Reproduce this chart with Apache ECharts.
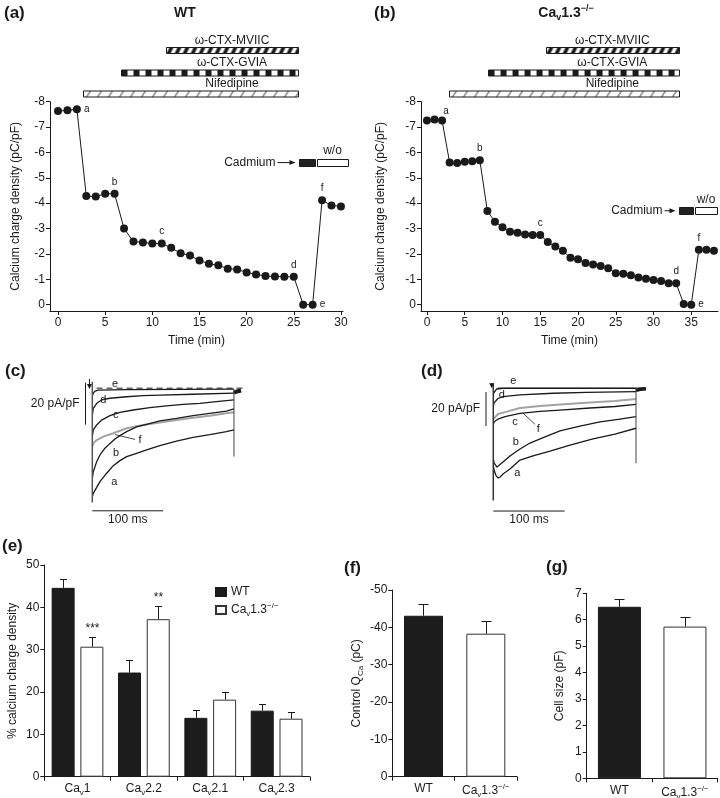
<!DOCTYPE html>
<html>
<head>
<meta charset="utf-8">
<script src="https://cdn.jsdelivr.net/npm/echarts@6.0.0/dist/echarts.min.js"></script>
<style>
html,body{margin:0;padding:0;background:#fff;}
#chart{width:720px;height:798px;}
</style>
</head>
<body>
<div id="chart"></div>
<script>
// ===================== DATA =====================
// (a) WT time course
const timeA = [0,1,2,3,4,5,6,7,8,9,10,11,12,13,14,15,16,17,18,19,20,21,22,23,24,25,26,27,28,29,30];
const chargeA = [-7.63,-7.66,-7.70,-4.28,-4.26,-4.37,-4.37,-3.00,-2.49,-2.45,-2.41,-2.41,-2.24,-2.03,-1.94,-1.74,-1.61,-1.55,-1.42,-1.39,-1.27,-1.19,-1.13,-1.11,-1.10,-1.10,0,0,-4.12,-3.91,-3.87];
const tagsA = {2:'a',6:'b',11:'c',25:'d',27:'e',28:'f'};
// (b) Cav1.3-/- time course
const timeB = [0,1,2,3,4,5,6,7,8,9,10,11,12,13,14,15,16,17,18,19,20,21,22,23,24,25,26,27,28,29,30,31,32,33,34,35,36,37,38];
const chargeB = [-7.26,-7.30,-7.26,-5.60,-5.58,-5.63,-5.65,-5.69,-3.69,-3.27,-3.05,-2.87,-2.83,-2.77,-2.75,-2.75,-2.47,-2.29,-2.12,-1.85,-1.79,-1.64,-1.58,-1.52,-1.44,-1.24,-1.22,-1.16,-1.07,-1.02,-0.97,-0.93,-0.84,-0.84,-0.03,0,-2.16,-2.16,-2.12];
const tagsB = {2:'a',7:'b',15:'c',33:'d',35:'e',36:'f'};
const ticksTimeA = [0,5,10,15,20,25,30];
const ticksTimeB = [0,5,10,15,20,25,30,35];
const ticksCharge = [-8,-7,-6,-5,-4,-3,-2,-1,0];
// drug application periods (min)
const drugsA = [{name:'ω-CTX-MVIIC',from:11.5,to:25.4,pat:'mviic'},{name:'ω-CTX-GVIA',from:6.65,to:25.4,pat:'gvia'},{name:'Nifedipine',from:2.6,to:25.4,pat:'nif'}];
const drugsB = [{name:'ω-CTX-MVIIC',from:15.7,to:33.4,pat:'mviic'},{name:'ω-CTX-GVIA',from:8.05,to:33.4,pat:'gvia'},{name:'Nifedipine',from:2.9,to:33.4,pat:'nif'}];
const cadmiumA = {on:25.55, off:27.4, end:30.7};
const cadmiumB = {on:33.4, off:35.35, end:38.4};

// (c) WT current traces [ms, pA/pF]
const traceCa = [[0.3,-51],[1.4,-49.7],[10.8,-44.1],[20.3,-40.1],[29.6,-36.5],[39,-34.1],[48.5,-32.2],[62.5,-30.6],[76.6,-29.0],[95.4,-27.0],[118.9,-24.8],[142.3,-23.0],[165.8,-21.7],[189.3,-20.3],[200,-19.5]];
const traceCb = [[0.3,-42],[1.4,-39.4],[6.2,-34.6],[10.8,-31.4],[17.9,-28.2],[24.9,-25.9],[32,-23.8],[39,-22.2],[48.5,-20.3],[62.5,-18.0],[76.6,-16.8],[95.4,-15.2],[118.9,-14.0],[142.3,-12.7],[165.8,-11.6],[189.3,-10.5],[200,-9.5]];
const traceCc = [[0.3,-22],[1.4,-19.5],[6.2,-17.1],[13.2,-14.8],[24.9,-12.7],[39,-11.1],[57.7,-10.0],[81.3,-8.9],[104.8,-8.0],[128.2,-7.3],[151.7,-6.8],[175.2,-6.0],[200,-5.2]];
const traceCd = [[0.3,-12],[1.4,-9.2],[6.2,-6.8],[13.2,-5.2],[24.9,-4.4],[48.5,-3.7],[71.8,-3.2],[95.4,-2.9],[142.3,-2.5],[200,-2.0]];
const traceCe = [[0.3,-3],[1.4,-2.0],[3.8,-1.0],[8.5,-0.5],[48.5,-0.3],[200,-0.1]];
const traceCf = [[0.5,-27],[1.4,-25.9],[6.2,-24.3],[15.5,-22.7],[29.6,-21.1],[48.5,-18.7],[71.8,-17.1],[95.4,-15.9],[118.9,-14.8],[142.3,-13.7],[165.8,-12.7],[189.3,-11.6],[200,-11.1]];
const zeroC = [[6,0.4],[212,0.4]];
const onsetC = [[0,3.5],[0,-54]];
const offsetC = [[200,0],[200,-32.2]];
const tailC = [[200,-1.8],[204,-1.2],[210,-0.7]];
// (d) Cav1.3-/- current traces
const traceDa = [[0.3,-46],[1,-48.1],[4,-51.5],[7,-52.8],[10,-52],[13.6,-50.4],[23.4,-47.5],[37.4,-42.2],[55.6,-39.8],[79.5,-36.9],[107.5,-33.4],[139.8,-29.8],[170.6,-26.9],[200,-23.5]];
const traceDb = [[0.3,-42],[1,-43.9],[5.2,-46.3],[9,-45],[13.6,-43.4],[23.4,-39.8],[37.4,-35.7],[51.4,-32.2],[72.5,-28.6],[93.5,-25.1],[121.5,-22.2],[149.6,-19.8],[177.6,-18.1],[200,-16.7]];
const traceDc = [[0.3,-21],[1,-19.8],[6.6,-18.1],[16.4,-16.6],[37.4,-14.8],[65.5,-13.6],[93.5,-12.8],[135.5,-11.6],[170.6,-10.7],[200,-9.5]];
const traceDd = [[0.3,-10],[1,-8.6],[6.6,-6.0],[13.6,-4.9],[37.4,-3.9],[83.7,-2.9],[131.3,-2.4],[200,-2.0]];
const traceDe = [[0.3,-3],[1,-2.0],[4.8,-0.4],[14,0],[200,0]];
const traceDf = [[0.5,-18],[1,-16.9],[6.6,-15.1],[16.4,-14.0],[37.4,-11.6],[65.5,-10.4],[93.5,-9.5],[135.5,-8.4],[170.6,-7.5],[200,-6.3]];
const onsetD = [[0,2.9],[0,-66]];
const offsetD = [[200,0],[200,-44.1]];
const tailD = [[200,-1.2],[206,-0.6],[214,-0.3]];
const scaleAmp = 20;   // pA/pF
const scaleDur = 100;  // ms

// (e) % calcium charge density
const channelCats = ['Cav1','Cav2.2','Cav2.1','Cav2.3'];
const shareWT = [44.6,24.6,13.9,15.6];
const shareWTtop = [46.7,27.6,15.7,17.2];
const shareKO = [30.7,37.2,18.2,13.7];
const shareKOtop = [33.1,40.4,20.1,15.3];
const shareSig = ['***','**','',''];
// (f),(g)
const genotypes = ['WT','Cav1.3-/-'];
const controlQ = [-43.1,-38.3];
const controlQtop = [-46.2,-41.6];
const cellSize = [6.49,5.74];
const cellSizeTop = [6.77,6.09];

// ===================== STYLE / LAYOUT =====================
const FONT = '"Liberation Sans", Arial, Helvetica, sans-serif';
const INK = '#1a1a1a';
const GRAY = '#a3a3a3';
const RICH = {
  n:{fontSize:12,lineHeight:16,fontFamily:FONT,color:INK},
  s:{fontSize:8,lineHeight:8,verticalAlign:'bottom',fontFamily:FONT,color:INK},
  p:{fontSize:8,lineHeight:8,verticalAlign:'top',fontFamily:FONT,color:INK}
};
function cav(str){
  if (str.indexOf('Cav') !== 0) return str;
  let rest = str.slice(3), sup = '';
  if (rest.slice(-3) === '-/-') { sup = '−/−'; rest = rest.slice(0,-3); }
  return '{n|Ca}{s|v}{n|' + rest + '}' + (sup ? '{p|' + sup + '}' : '');
}
function ax(extra){
  const base = {
    splitLine:{show:false},
    axisLine:{show:true,onZero:false,lineStyle:{color:INK,width:1}},
    axisTick:{show:true,length:4,lineStyle:{color:INK,width:1}},
    axisLabel:{color:INK,fontSize:12,fontFamily:FONT,margin:5},
    nameTextStyle:{color:INK,fontSize:12,fontFamily:FONT},
    animation:false
  };
  for (const k in extra){
    if (base[k] && typeof extra[k]==='object' && !Array.isArray(extra[k])) base[k] = Object.assign({}, base[k], extra[k]);
    else base[k] = extra[k];
  }
  return base;
}
function hidden(gi,min,max){ return {type:'value',gridIndex:gi,min,max,show:false,splitLine:{show:false}}; }

function timeCourse(gi, times, vals, tags, panel){
  return {type:'line',xAxisIndex:gi,yAxisIndex:gi,symbol:'circle',symbolSize:8,silent:true,z:3,
    lineStyle:{color:INK,width:1},itemStyle:{color:INK},
    data: times.map((t,i)=>{
      const d = {value:[t,vals[i]]};
      const tg = tags[i];
      if (tg){
        let pos='top', off=[0,0];
        if (tg==='e') pos='right';
        if (tg==='a') { if (panel==='a') pos='right'; else off=[4,3]; }
        d.label = {show:true,formatter:tg,position:pos,offset:off,distance:3,fontSize:10,color:INK,fontFamily:FONT};
      }
      return d;
    })};
}
function line(gi, data, color, width, dash){
  return {type:'line',xAxisIndex:gi,yAxisIndex:gi,data,symbol:'none',showSymbol:false,silent:true,z:2,
    lineStyle:{color,width,type:dash||'solid',cap:'butt'}};
}
function errorSeries(gi, means, tops, offset, capHalf, marks){
  return {type:'custom',xAxisIndex:gi,yAxisIndex:gi,silent:true,z:5,
    data: means.map((m,i)=>[i,m,tops[i]]),
    encode:{x:0,y:[1,2]},
    renderItem(params, api){
      const i = api.value(0);
      const a = api.coord([i, api.value(1)]);
      const b = api.coord([i, api.value(2)]);
      const x = Math.round(a[0]+offset)+0.5;
      const yb = Math.round(b[1])+0.5;
      const ch = [
        {type:'line',shape:{x1:x,y1:a[1],x2:x,y2:yb},style:{stroke:INK,lineWidth:1}},
        {type:'line',shape:{x1:x-capHalf,y1:yb,x2:x+capHalf,y2:yb},style:{stroke:INK,lineWidth:1}}
      ];
      if (marks && marks[i]) ch.push({type:'text',x:x,y:yb-3,style:{text:marks[i],fill:INK,fontSize:12,fontFamily:FONT,align:'center',verticalAlign:'bottom',textAlign:'center',textVerticalAlign:'bottom'}});
      return {type:'group',children:ch};
    }};
}

const chart = echarts.init(document.getElementById('chart'));
const gridBase = {containLabel:false, outerBoundsMode:'none'};
const option = {
  animation:false,
  backgroundColor:'#fff',
  textStyle:{fontFamily:FONT},
  grid:[
    Object.assign({left:50,top:101.7,width:293,height:209.3},gridBase),
    Object.assign({left:421,top:101.7,width:297,height:209.3},gridBase),
    Object.assign({left:83.8,top:376.4,width:160.1,height:138.6},gridBase),
    Object.assign({left:483.3,top:381.5,width:164.1,height:132.6},gridBase),
    Object.assign({left:44.3,top:565,width:265.5,height:211.7},gridBase),
    Object.assign({left:392.3,top:590,width:124.7,height:186.7},gridBase),
    Object.assign({left:586.7,top:593.3,width:131,height:185},gridBase)
  ],
  legend:{
    data:['WT','Cav1.3-/-'],orient:'vertical',left:210,top:581,itemWidth:10,itemHeight:8,itemGap:4,
    icon:'rect',selectedMode:false,formatter:(n)=>cav(n),
    textStyle:{color:INK,fontSize:12,fontFamily:FONT,rich:RICH}
  },
  xAxis:[
    ax({type:'value',gridIndex:0,min:-0.85,max:30.22,axisTick:{customValues:ticksTimeA},axisLabel:{customValues:ticksTimeA,margin:6},name:'Time (min)',nameLocation:'middle',nameGap:24}),
    ax({type:'value',gridIndex:1,min:-0.79,max:38.54,axisTick:{customValues:ticksTimeB},axisLabel:{customValues:ticksTimeB,margin:6},name:'Time (min)',nameLocation:'middle',nameGap:24}),
    hidden(2,-12,214),
    hidden(3,-14,216),
    ax({type:'category',gridIndex:4,data:channelCats,axisLabel:{formatter:cav,rich:RICH,margin:4,interval:0}}),
    ax({type:'category',gridIndex:5,data:genotypes,axisLabel:{formatter:cav,rich:RICH,margin:6,interval:0}}),
    ax({type:'category',gridIndex:6,data:genotypes,axisLabel:{formatter:cav,rich:RICH,margin:6,interval:0}})
  ],
  yAxis:[
    ax({type:'value',gridIndex:0,inverse:true,min:-8,max:0.25,axisTick:{customValues:ticksCharge},axisLabel:{customValues:ticksCharge},name:'Calcium charge density (pC/pF)',nameLocation:'middle',nameGap:28}),
    ax({type:'value',gridIndex:1,inverse:true,min:-8,max:0.25,axisTick:{customValues:ticksCharge},axisLabel:{customValues:ticksCharge},name:'Calcium charge density (pC/pF)',nameLocation:'middle',nameGap:34}),
    hidden(2,-60,6),
    hidden(3,-74,4),
    ax({type:'value',gridIndex:4,min:0,max:50,interval:10,name:'% calcium charge density',nameLocation:'middle',nameGap:26}),
    ax({type:'value',gridIndex:5,inverse:true,min:-50,max:0,interval:10,name:'{n|Control Q}{s|Ca}{n| (pC)}',nameLocation:'middle',nameGap:28,nameTextStyle:{rich:RICH}}),
    ax({type:'value',gridIndex:6,min:0,max:7,interval:1,name:'Cell size (pF)',nameLocation:'middle',nameGap:21})
  ],
  series:[
    timeCourse(0,timeA,chargeA,tagsA,'a'),
    timeCourse(1,timeB,chargeB,tagsB,'b'),
    // (c)
    line(2,zeroC,INK,1,[6,4]),
    line(2,traceCf,GRAY,2),
    line(2,traceCa,INK,1.3), line(2,traceCb,INK,1.3), line(2,traceCc,INK,1.3), line(2,traceCd,INK,1.3), line(2,traceCe,INK,1.3),
    line(2,onsetC,'#555',1.5), line(2,offsetC,'#444',1), line(2,tailC,INK,4),
    line(2,[[-9.6,3],[-9.6,3-scaleAmp]],INK,1),
    line(2,[[0,-58],[scaleDur,-58]],INK,1),
    // (d)
    line(3,[[6,0.2],[214,0.2]],INK,0.8),
    line(3,traceDf,GRAY,2),
    line(3,traceDa,INK,1.3), line(3,traceDb,INK,1.3), line(3,traceDc,INK,1.3), line(3,traceDd,INK,1.3), line(3,traceDe,INK,1.3),
    line(3,onsetD,'#333',1.5), line(3,offsetD,'#444',1), line(3,tailD,INK,3.5),
    line(3,[[-10.2,-2.2],[-10.2,-2.2-scaleAmp]],INK,1),
    line(3,[[0,-72.2],[scaleDur,-72.2]],INK,1),
    // (e)
    {name:'WT',type:'bar',xAxisIndex:4,yAxisIndex:4,data:shareWT,barWidth:23,barGap:'25%',silent:true,itemStyle:{color:'#1c1c1c',borderColor:INK,borderWidth:1}},
    {name:'Cav1.3-/-',type:'bar',xAxisIndex:4,yAxisIndex:4,data:shareKO,barWidth:23,barGap:'25%',silent:true,itemStyle:{color:'#fff',borderColor:'#333',borderWidth:1}},
    errorSeries(4,shareWT,shareWTtop,-14.4,3.5),
    errorSeries(4,shareKO,shareKOtop,14.4,3.5,shareSig),
    // (f)
    {type:'bar',xAxisIndex:5,yAxisIndex:5,barWidth:39,silent:true,data:[{value:controlQ[0],itemStyle:{color:'#1c1c1c',borderColor:INK,borderWidth:1}},{value:controlQ[1],itemStyle:{color:'#fff',borderColor:'#333',borderWidth:1}}]},
    errorSeries(5,controlQ,controlQtop,0,5),
    // (g)
    {type:'bar',xAxisIndex:6,yAxisIndex:6,barWidth:43,silent:true,data:[{value:cellSize[0],itemStyle:{color:'#1c1c1c',borderColor:INK,borderWidth:1}},{value:cellSize[1],itemStyle:{color:'#fff',borderColor:'#333',borderWidth:1}}]},
    errorSeries(6,cellSize,cellSizeTop,0,5)
  ]
};
chart.setOption(option);

// ===================== ANNOTATIONS =====================
const P = (gi, pt) => chart.convertToPixel({gridIndex:gi}, pt);
function txt(text, x, y, o){
  o = o || {};
  const st = {text, fill:INK, fontSize:o.size||12, fontFamily:FONT, fontWeight:o.weight||'normal',
    align:o.align||'center', verticalAlign:o.valign||'middle', textAlign:o.align||'center', textVerticalAlign:o.valign||'middle'};
  if (o.rich) st.rich = o.rich;
  return {type:'text', x, y, z:20, style:st, silent:true};
}
function makePattern(kind){
  const cv = document.createElement('canvas');
  const ctx = cv.getContext('2d');
  if (kind==='gvia'){ cv.width=12; cv.height=6; ctx.fillStyle='#fff'; ctx.fillRect(0,0,12,6); ctx.fillStyle=INK; ctx.fillRect(0,0,6,6); }
  else if (kind==='mviic'){ cv.width=8; cv.height=6; ctx.fillStyle='#fff'; ctx.fillRect(0,0,8,6); ctx.fillStyle=INK; ctx.beginPath(); ctx.moveTo(0,6); ctx.lineTo(3,0); ctx.lineTo(7,0); ctx.lineTo(4,6); ctx.closePath(); ctx.fill(); }
  else { cv.width=11; cv.height=6; ctx.fillStyle='#fff'; ctx.fillRect(0,0,11,6); ctx.strokeStyle='#333'; ctx.lineWidth=1; ctx.beginPath(); ctx.moveTo(3,6); ctx.lineTo(7,0); ctx.stroke(); }
  return {image:cv, repeat:'repeat'};
}
const patterns = {mviic:makePattern('mviic'), gvia:makePattern('gvia'), nif:makePattern('nif')};
const G = [];
function drugBars(gi, drugs){
  const rowY = [47.5, 70, 91], labY = [41, 62.5, 83.5];
  const cx = (P(gi,[drugs[0].from,0])[0] + P(gi,[drugs[0].to,0])[0]) / 2;
  drugs.forEach((d,k)=>{
    const x0 = Math.round(P(gi,[d.from,0])[0])+0.5, x1 = Math.round(P(gi,[d.to,0])[0])+0.5;
    G.push({type:'rect', x:x0, y:rowY[k], z:15, silent:true, shape:{x:0,y:0,width:x1-x0,height:6}, style:{fill:patterns[d.pat], stroke:INK, lineWidth:1}});
    G.push(txt(d.name, cx, labY[k]));
  });
}
function arrowRight(x0, x1, y){
  G.push({type:'line', z:15, silent:true, shape:{x1:x0,y1:y,x2:x1-4,y2:y}, style:{stroke:INK,lineWidth:1}});
  G.push({type:'polygon', z:15, silent:true, shape:{points:[[x1,y],[x1-6,y-2.5],[x1-6,y+2.5]]}, style:{fill:INK}});
}
function cadmium(gi, cad, level, arrowLen, gapTxt){
  const y = P(gi,[0,level])[1];
  const xOn = Math.round(P(gi,[cad.on,level])[0])+0.5, xOff = Math.round(P(gi,[cad.off,level])[0])+0.5, xEnd = Math.round(P(gi,[cad.end,level])[0])+0.5;
  G.push({type:'rect', z:15, silent:true, shape:{x:xOn,y:Math.round(y-3.5)+0.5,width:xOff-xOn-1,height:7}, style:{fill:'#222',stroke:INK,lineWidth:1}});
  G.push({type:'rect', z:15, silent:true, shape:{x:xOff+1,y:Math.round(y-3.5)+0.5,width:xEnd-xOff-1,height:7}, style:{fill:'#fff',stroke:INK,lineWidth:1}});
  arrowRight(xOn-4-arrowLen, xOn-4, y);
  G.push(txt('Cadmium', xOn-4-arrowLen-gapTxt, y, {align:'right'}));
  G.push(txt('w/o', (xOff+xEnd)/2, y-11.5));
}
drugBars(0, drugsA);
drugBars(1, drugsB);
cadmium(0, cadmiumA, -5.6, 18, 2);
cadmium(1, cadmiumB, -3.7, 11, 2);

// trace letters
const tagsC = [['a',31,-44.1],['b',33.5,-30.6],['c',33,-12.4],['d',15.5,-5.2],['e',32,2.4],['f',67.3,-24.5]];
const tagsD = [['a',33.6,-50],['b',31.4,-31.8],['c',30.4,-20],['d',11.8,-3.9],['e',28,4.3],['f',63,-23.9]];
function traceTags(gi, tags, leader){
  tags.forEach(t=>{ const p = P(gi,[t[1],t[2]]); G.push(txt(t[0], p[0], p[1], {size:11})); });
  const a = P(gi, leader[0]), b = P(gi, leader[1]);
  G.push({type:'line', z:15, silent:true, shape:{x1:a[0],y1:a[1],x2:b[0],y2:b[1]}, style:{stroke:INK,lineWidth:0.8}});
}
traceTags(2, tagsC, [[32,-21.7],[60.3,-24]]);
traceTags(3, tagsD, [[42,-14.7],[58.4,-21.2]]);
function downArrow(gi, t, vTop){
  const a = P(gi,[t,vTop]), b = P(gi,[t,0]);
  G.push({type:'line', z:15, silent:true, shape:{x1:a[0],y1:a[1],x2:b[0],y2:b[1]-3}, style:{stroke:INK,lineWidth:1}});
  G.push({type:'polygon', z:15, silent:true, shape:{points:[[b[0],b[1]],[b[0]-2.5,b[1]-5],[b[0]+2.5,b[1]-5]]}, style:{fill:INK}});
}
downArrow(2, -4, 4.8);
downArrow(3, -2.2, 3);
function scaleText(gi, tBar, vTop, vH){
  const a = P(gi,[tBar, vTop - scaleAmp/2]);
  G.push(txt(scaleAmp + ' pA/pF', a[0]-6, a[1], {align:'right'}));
  const h = P(gi,[scaleDur/2, vH]);
  G.push(txt(scaleDur + ' ms', h[0], h[1]+9));
}
scaleText(2, -9.6, 3, -58);
scaleText(3, -10.2, -2.2, -72.2);

// panel letters and titles
const L = {size:17, weight:'bold', align:'left'};
G.push(txt('(a)', 4, 13, L));
G.push(txt('WT', 185, 13, {size:14, weight:'bold'}));
G.push(txt('(b)', 374, 13, L));
const RB = {n:{fontSize:14,lineHeight:18,fontWeight:'bold',fontFamily:FONT,fill:INK,color:INK},
            s:{fontSize:9,lineHeight:9,verticalAlign:'bottom',fontWeight:'bold',fontFamily:FONT,color:INK},
            p:{fontSize:9,lineHeight:9,verticalAlign:'top',fontWeight:'bold',fontFamily:FONT,color:INK}};
G.push(txt('{n|Ca}{s|v}{n|1.3}{p|−/−}', 566, 13, {rich:RB}));
G.push(txt('(c)', 5, 371, L));
G.push(txt('(d)', 421, 371, L));
G.push(txt('(e)', 2, 546, L));
G.push(txt('(f)', 344, 568, L));
G.push(txt('(g)', 546, 567, L));

chart.setOption({graphic:{elements:G}});
</script>
</body>
</html>
